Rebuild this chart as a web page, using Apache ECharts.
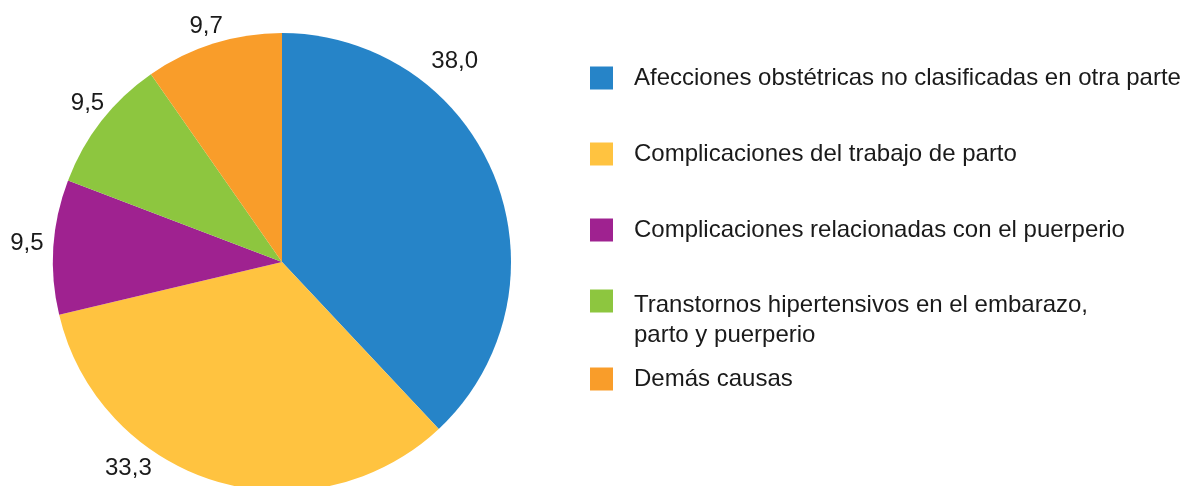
<!DOCTYPE html>
<html>
<head>
<meta charset="utf-8">
<script src="https://cdn.jsdelivr.net/npm/echarts@6/dist/echarts.min.js"></script>
<style>
  html, body { margin: 0; padding: 0; background: #fff; }
  #chart { width: 1183px; height: 486px; }
</style>
</head>
<body>
<div id="chart"></div>
<script>
// categories and values (percent)
var causas = [
  'Afecciones obstétricas no clasificadas en otra parte',
  'Complicaciones del trabajo de parto',
  'Complicaciones relacionadas con el puerperio',
  'Transtornos hipertensivos en el embarazo,\nparto y puerperio',
  'Demás causas'
];
var valores = [38.0, 33.3, 9.5, 9.5, 9.7];
var colores = ['#2684c8', '#ffc340', '#9f2290', '#8dc63f', '#f99d2a'];

// label nudges (px) relative to default outside position
var labelDx = [-76, -57, 3, 14, 17];
var labelDy = [-113, -21, -3, -13, -10];

var chart = echarts.init(document.getElementById('chart'));

var fuente = 'Liberation Sans, Arial, sans-serif';
var legendTops = [66, 142, 218, 252, 367];
var legends = causas.map(function (c, i) {
  var twoLines = c.indexOf('\n') >= 0;
  var lg = {
    data: [c],
    orient: 'vertical',
    left: 590,
    top: legendTops[i],
    padding: 0,
    itemWidth: 23,
    itemHeight: 23,
    itemGap: 0,
    icon: 'rect',
    selectedMode: false,
    textStyle: {
      fontFamily: fuente,
      fontSize: 24,
      color: '#1a1a1a',
      lineHeight: 23,
      padding: [0, 0, 0, 16]
    }
  };
  if (twoLines) {
    // keep first line level with the square, second line hangs below
    lg.formatter = function (name) {
      return '{gap| }\n' + name.split('\n').map(function (s) {
        return '{t|' + s + '}';
      }).join('\n');
    };
    lg.textStyle.rich = {
      gap: { lineHeight: 38, fontSize: 10 },
      t: { lineHeight: 30, fontSize: 24, fontFamily: fuente, color: '#1a1a1a' }
    };
  }
  return lg;
});

var option = {
  animation: false,
  color: colores,
  legend: legends,
  series: [{
    type: 'pie',
    center: [282, 262],
    radius: 229,
    startAngle: 90,
    clockwise: true,
    avoidLabelOverlap: false,
    itemStyle: { borderWidth: 0 },
    label: {
      show: true,
      position: 'outside',
      fontFamily: fuente,
      fontSize: 24,
      color: '#1a1a1a',
      formatter: function (p) { return p.value.toFixed(1).replace('.', ','); }
    },
    labelLine: { show: false, length: 8, length2: 0 },
    labelLayout: function (p) {
      return { dx: labelDx[p.dataIndex], dy: labelDy[p.dataIndex] };
    },
    data: causas.map(function (c, i) {
      return { name: c, value: valores[i] };
    })
  }]
};

chart.setOption(option);
</script>
</body>
</html>
